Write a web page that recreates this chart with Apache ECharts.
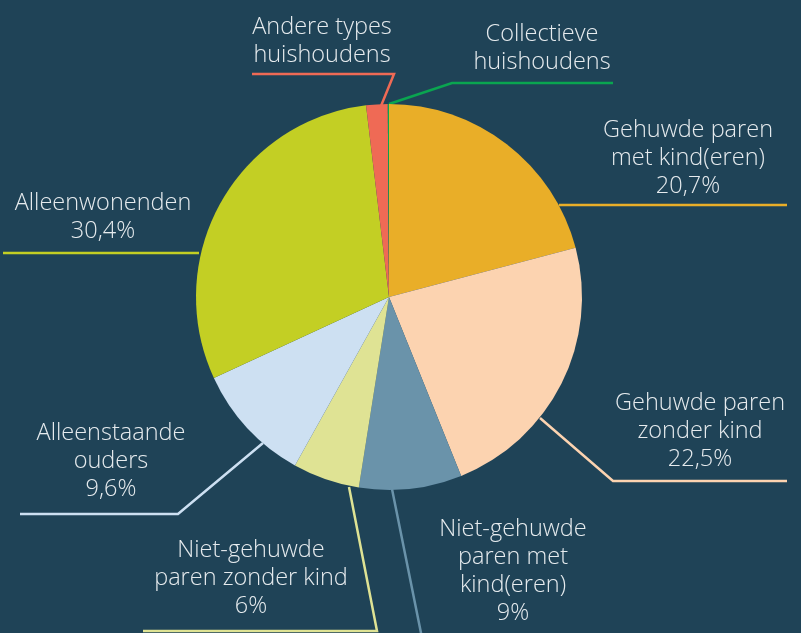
<!DOCTYPE html>
<html lang="nl">
<head>
    <meta charset="UTF-8">
    <title>Huishoudens</title>
    <script src="https://cdn.jsdelivr.net/npm/echarts@6/dist/echarts.min.js"></script>
    <style>
        html, body { margin: 0; padding: 0; background: #1f4357; }
        #container { width: 801px; height: 633px; }
    </style>
</head>
<body>
<div id="container"></div>
<script type="text/javascript">
    // data
    var categories = ['Gehuwde paren met kind(eren)', 'Gehuwde paren zonder kind', 'Niet-gehuwde paren met kind(eren)',
        'Niet-gehuwde paren zonder kind', 'Alleenstaande ouders', 'Alleenwonenden',
        'Andere types huishoudens', 'Collectieve huishoudens'];
    var labelText = ['Gehuwde paren\nmet kind(eren)', 'Gehuwde paren\nzonder kind', 'Niet-gehuwde\nparen met\nkind(eren)',
        'Niet-gehuwde\nparen zonder kind', 'Alleenstaande\nouders', 'Alleenwonenden',
        'Andere types\nhuishoudens', 'Collectieve\nhuishoudens'];
    // slice sizes as drawn in the picture
    var values = [20.9, 23.0, 8.6, 5.6, 10.0, 30.0, 1.8, 0.1];
    // percentages as printed on the labels (null = not shown)
    var shares = ['20,7', '22,5', '9', '6', '9,6', '30,4', null, null];
    var colors = ['#e9ae28', '#fcd3b0', '#6a93aa', '#dfe394', '#cde0f2', '#c3cf24', '#ef6a55', '#0aa550'];

    // where each label sits and how its leader line runs
    var labelSpots = [
        {x: 688, y: 158, line: [[559, 205], [700, 205], [787, 205]]},
        {x: 700, y: 431, line: [[540, 418], [613, 481], [787, 481]]},
        {x: 513, y: 571, line: [[392, 489], [421, 633], [424, 650]]},
        {x: 251, y: 578, line: [[349, 487], [377, 631], [143, 631]]},
        {x: 111, y: 461, line: [[263, 443], [178, 514], [20, 514]]},
        {x: 103, y: 217, line: [[199, 253], [100, 253], [3, 253]]},
        {x: 322, y: 41, line: [[381, 106], [394, 74], [252, 74]]},
        {x: 542, y: 48, line: [[389, 104], [452, 83], [613, 83]]}
    ];

    var data = categories.map(function (c, i) {
        return {
            name: c,
            value: values[i],
            itemStyle: {color: colors[i]},
            labelLine: {lineStyle: {color: colors[i]}}
        };
    });

    var myChart = echarts.init(document.getElementById('container'));
    myChart.setOption({
        backgroundColor: '#1f4357',
        animation: false,
        series: [{
            type: 'pie',
            center: [389, 297],
            radius: 193,
            startAngle: 90,
            clockwise: true,
            avoidLabelOverlap: false,
            data: data,
            label: {
                show: true,
                position: 'outside',
                color: '#e6ebee',
                fontFamily: 'Open Sans',
                fontWeight: 300,
                fontSize: 23.5,
                lineHeight: 28,
                align: 'center',
                formatter: function (p) {
                    var i = p.dataIndex;
                    var t = labelText[i];
                    if (shares[i]) {
                        t += '\n' + shares[i] + '%';
                    }
                    return t;
                }
            },
            labelLine: {
                show: true,
                smooth: false,
                lineStyle: {width: 2.5}
            },
            labelLayout: function (params) {
                var s = labelSpots[params.dataIndex];
                return {
                    x: s.x,
                    y: s.y,
                    align: 'center',
                    verticalAlign: 'middle',
                    labelLinePoints: s.line
                };
            }
        }]
    });
</script>
</body>
</html>
